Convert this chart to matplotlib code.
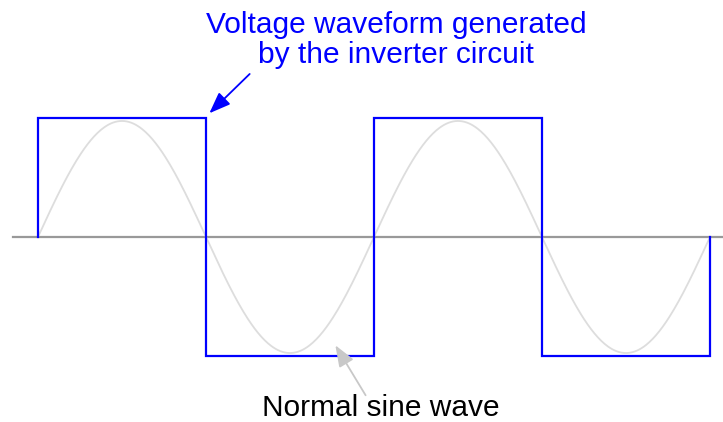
import numpy as np
import matplotlib.pyplot as plt

plt.rcParams['font.family'] = ['Liberation Sans', 'DejaVu Sans']

# time in half-periods, square wave levels
edges = [0, 1, 2, 3, 4]
levels = [1, -1, 1, -1]
sine_amp = 0.975

# annotation text
top_label = 'Voltage waveform generated\nby the inverter circuit'
bottom_label = 'Normal sine wave'

fig = plt.figure(figsize=(7.23, 4.22), dpi=100)
ax = fig.add_axes([0, 0, 1, 1])
ax.set_xlim(-38 / 168, (723 - 38) / 168)
ax.set_ylim(-(422 - 237) / 119, 237 / 119)
ax.axis('off')

# baseline
ax.axhline(0, xmin=13 / 723, xmax=1, color='#999999', lw=1.6, zorder=1)

# sine
t = np.linspace(edges[0], edges[-1], 600)
ax.plot(t, sine_amp * np.sin(np.pi * t), color='#dddddd', lw=1.3, zorder=2)

# square wave
xs = [edges[0]]
ys = [0]
for i, lv in enumerate(levels):
    xs += [edges[i], edges[i + 1]]
    ys += [lv, lv]
xs.append(edges[-1])
ys.append(0)
ax.plot(xs, ys, color='#0000ff', lw=1.6, zorder=3, solid_joinstyle='miter')

# labels
ax.text(2.13, 1.655, top_label, ha='center', va='center', color='#0000ff',
        fontsize=21.5, linespacing=1.1)
ax.annotate('', xy=(1.02, 1.04), xytext=(1.26, 1.37),
            arrowprops=dict(arrowstyle='-|>,head_length=1.3,head_width=0.5',
                            color='#0000ff', lw=1.3, shrinkA=0, shrinkB=0))
ax.annotate('', xy=(1.77, -0.91), xytext=(1.95, -1.33),
            arrowprops=dict(arrowstyle='-|>,head_length=1.3,head_width=0.5',
                            color='#c8c8c8', lw=1.3, shrinkA=0, shrinkB=0))
ax.text(2.04, -1.437, bottom_label, ha='center', va='center',
        color='black', fontsize=21.5)

fig.savefig('out.png', dpi=100)
